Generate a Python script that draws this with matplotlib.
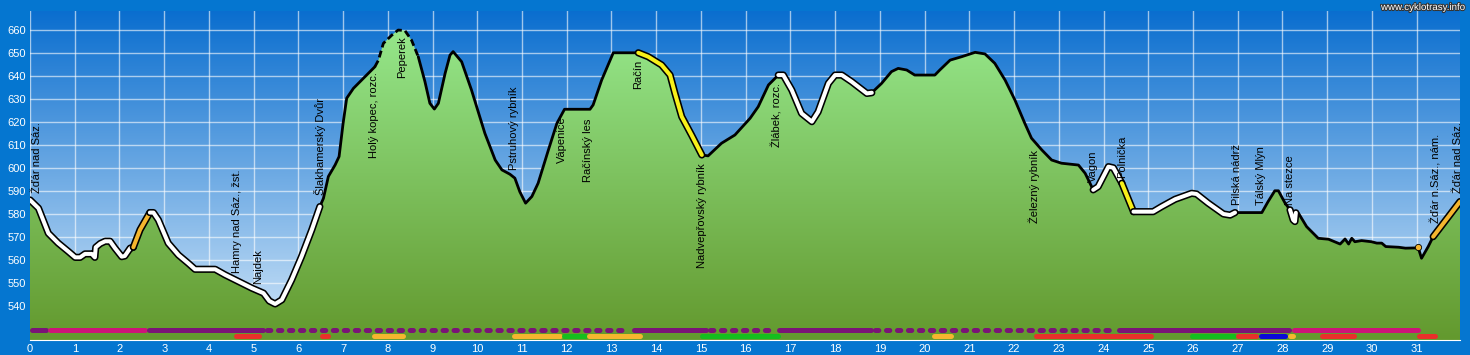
import matplotlib
matplotlib.use("Agg")
import matplotlib.pyplot as plt
import matplotlib.patheffects as pe
from matplotlib.colors import LinearSegmentedColormap
from matplotlib.patches import Polygon
import numpy as np

plt.rcParams['font.family'] = ['Liberation Sans', 'DejaVu Sans']
plt.rcParams['lines.scale_dashes'] = False

# elevation profile (km, m)
km = [0.00, 0.19, 0.41, 0.63, 0.86, 1.01, 1.12, 1.23, 1.38, 1.45, 1.47, 1.57, 1.68, 1.79, 1.90,
      2.05, 2.12, 2.24, 2.31, 2.46, 2.68, 2.76, 2.87, 3.09, 3.32, 3.54, 3.69, 4.14, 4.36, 4.66,
      4.96, 5.22, 5.35, 5.48, 5.63, 5.85, 6.07, 6.30, 6.48, 6.56, 6.67, 6.82, 6.91, 7.00, 7.08,
      7.23, 7.49, 7.71, 7.79, 7.90, 8.09, 8.23, 8.38, 8.53, 8.68, 8.83, 8.94, 9.04, 9.13, 9.28,
      9.39, 9.46, 9.65, 9.87, 10.17, 10.40, 10.55, 10.73, 10.84, 10.95, 11.08, 11.22, 11.36,
      11.59, 11.78, 11.95, 12.52, 12.59, 12.78, 13.04, 13.60, 13.82, 14.12, 14.31, 14.42, 14.57,
      14.79, 15.02, 15.16, 15.46, 15.76, 16.10, 16.28, 16.51, 16.73, 16.84, 17.03, 17.25, 17.48,
      17.62, 17.85, 18.00, 18.15, 18.37, 18.71, 18.82, 19.04, 19.26, 19.41, 19.60, 19.78, 20.23,
      20.34, 20.57, 20.83, 21.13, 21.35, 21.57, 21.80, 22.02, 22.24, 22.39, 22.62, 22.84, 23.06,
      23.44, 23.59, 23.77, 23.88, 24.11, 24.22, 24.41, 24.67, 25.11, 25.30, 25.60, 25.97, 26.08,
      26.34, 26.68, 26.83, 26.94, 27.54, 27.68, 27.83, 27.91, 28.06, 28.17, 28.24, 28.28, 28.30,
      28.36, 28.54, 28.80, 29.03, 29.29, 29.40, 29.48, 29.55, 29.62, 29.77, 29.99, 30.11, 30.22,
      30.31, 30.60, 30.75, 30.97, 31.04, 31.11, 31.26, 31.37, 31.97]
elev = [586, 582.4, 571.5, 567.2, 563.5, 561, 561, 562.5, 562.5, 561, 565.4, 567, 568, 568, 565,
        561.3, 561.6, 565, 565.4, 573, 580.5, 580.5, 577.3, 567.2, 562, 558.4, 555.8, 555.8, 553.4, 550.5,
        547.6, 545.4, 542, 540.7, 542.5, 551.2, 561.3, 573, 583.1, 586.7, 596.2, 601.2, 604.9, 619.4, 630.3,
        634.6, 639.7, 644, 646.9, 654.2, 657.8, 660, 659.8, 655.6, 648.4, 637.5, 628.1, 625.6, 628.1, 641.1,
        649.1, 650.6, 646.2, 633.9, 615, 603.4, 599.1, 597.2, 595.5, 589.6, 584.6, 587.5, 593.3,
        607.8, 619.4, 625.5, 625.5, 627.4, 638.2, 650.1, 650.1, 648.4, 644.8, 640.4, 632.4, 622.3,
        614.3, 605.6, 605.2, 610.7, 614.3, 621.6, 626.6, 636.1, 640.4, 640.4, 633.9, 623.7, 620.1,
        624.4, 636.8, 640.4, 640.4, 637.5, 632.4, 632.7, 636.8, 641.9, 643.3, 642.6, 640.4, 640.4,
        642.6, 646.9, 648.4, 650.3, 649.6, 645.5, 638.2, 629.5, 619.4, 612.9, 607.8, 603.4, 602,
        601.2, 597.6, 590.4, 591.8, 600.5, 600, 593.3, 580.9, 580.9, 583.1, 586.3, 588.9, 588.6,
        584.6, 579.9, 579.4, 580.5, 580.5, 585.3, 590, 590, 584.6, 581.7, 577.3, 576.6, 580.4,
        580.2, 574.4, 569.3, 568.9, 566.8, 569, 566.8, 569.3, 567.8, 568.3, 567.8, 567.2, 567.2,
        565.7, 565.4, 565, 565.1, 565, 560.6, 565.7, 570, 585.3]

# line highlight sections (from km, to km, kind)
line_sections = [(0, 2.31, 'white'), (2.31, 2.68, 'orange'), (2.68, 6.48, 'white'),
                 (7.71, 8.68, 'dashed'), (13.60, 15.02, 'yellow'), (16.73, 18.82, 'white'),
                 (23.77, 24.41, 'white'), (24.41, 24.67, 'yellow'), (24.67, 26.94, 'white'),
                 (28.17, 28.30, 'white'), (31.37, 31.97, 'orange')]

# waypoint labels (km, elevation of text foot, name)
label_km = [0.15, 4.62, 5.10, 6.48, 7.68, 8.31, 10.83, 11.90, 12.47, 13.60, 15.03, 16.71,
            22.45, 23.77, 24.42, 26.98, 27.51, 28.17, 31.43, 31.93]
label_y = [589.2, 554.1, 549.4, 588.2, 604.2, 639, 599.1, 602.3, 594, 634.2, 556.3, 609.2,
           576.1, 594, 595.5, 583.8, 583.8, 583.8, 575.9, 588.9]
label_text = ['Žďár nad Sáz.', 'Hamry nad Sáz., žst.', 'Najdek', 'Šlakhamerský Dvůr',
              'Holý kopec, rozc.', 'Peperek', 'Pstruhový rybník', 'Vápenice', 'Račínský les',
              'Račín', 'Nadvepřovský rybník', 'Žlábek, rozc.', 'Železný rybník', 'Vagon',
              'Polnička', 'Pilská nádrž', 'Tálský Mlýn', 'Na stezce', 'Žďár n.Sáz., nám.',
              'Žďár nad Sáz.']

# route type bars
bar1 = [(0, 0.40, 'purple', 'solid'), (0.40, 2.61, 'magenta', 'solid'),
        (2.61, 5.25, 'purple', 'solid'), (5.25, 13.45, 'purple', 'dotted'),
        (13.45, 15.16, 'purple', 'solid'), (15.16, 16.69, 'purple', 'dotted'),
        (16.69, 18.85, 'purple', 'solid'), (18.85, 24.29, 'purple', 'dotted'),
        (24.29, 28.20, 'purple', 'solid'), (28.20, 31.08, 'magenta', 'solid')]
# surface bars
bar2 = [(4.55, 5.18, 'red'), (6.47, 6.71, 'red'), (7.64, 8.38, 'orange'),
        (10.77, 11.89, 'orange'), (11.89, 12.45, 'green'), (12.45, 13.68, 'orange'),
        (14.98, 16.77, 'green'), (20.16, 20.63, 'orange'), (22.43, 25.11, 'red'),
        (25.93, 26.96, 'green'), (26.96, 27.46, 'red'), (27.46, 28.11, 'blue'),
        (28.11, 28.28, 'orange'), (28.84, 29.64, 'red'), (31.01, 31.46, 'red')]

colors = {'purple': '#7a1476', 'magenta': '#cc1478', 'red': '#e8302a', 'orange': '#f5b62e',
          'green': '#14be1e', 'blue': '#0a0ad8', 'white': 'white', 'yellow': '#f8f01a'}

km = np.array(km)
elev = np.array(elev)
x_max, y_min, y_max = 31.97, 525, 668.3

fig = plt.figure(figsize=(14.7, 3.55), dpi=100, facecolor='#0576d0')
ax = fig.add_axes([30/1470, 15/355, 1430/1470, 329/355])
ax.set_xlim(0, x_max)
ax.set_ylim(y_min, y_max)

# sky gradient
sky = LinearSegmentedColormap.from_list('sky', ['#d2e7f9', '#0a6ecf'])
ax.imshow(np.linspace(0, 1, 256).reshape(-1, 1), extent=[0, x_max, y_min, y_max],
          origin='lower', aspect='auto', cmap=sky, zorder=0)
ax.grid(True, color='white', alpha=0.6, lw=1, zorder=1)
ax.set_axisbelow(True)

# terrain gradient, clipped to profile
verts = np.column_stack([np.r_[km, km[-1], km[0]], np.r_[elev, y_min, y_min]])
poly = Polygon(verts, closed=True, facecolor='none', edgecolor='none')
ax.add_patch(poly)
grass = LinearSegmentedColormap.from_list('grass', ['#63992e', '#96e88c'])
img = ax.imshow(np.linspace(0, 1, 256).reshape(-1, 1), extent=[0, x_max, y_min, 662],
                origin='lower', aspect='auto', cmap=grass, zorder=2)
img.set_clip_path(poly)

# profile outline
dash_from, dash_to = 7.71, 8.68
m1 = km <= dash_from
m2 = km >= dash_to
ax.plot(km[m1], elev[m1], color='black', lw=2, zorder=4, solid_capstyle='round')
ax.plot(km[m2], elev[m2], color='black', lw=2, zorder=4, solid_capstyle='round')
for a, b, kind in line_sections:
    m = (km >= a - 1e-6) & (km <= b + 1e-6)
    if kind == 'dashed':
        ax.plot(km[m], elev[m], color='black', lw=2, ls=(0, (5, 2.5)), zorder=4)
        continue
    ax.plot(km[m], elev[m], color=colors[kind], lw=2.9, zorder=5, solid_capstyle='round',
            path_effects=[pe.Stroke(linewidth=5.2, foreground='black'), pe.Normal()])
# small orange dot near the end
ax.plot([31.04], [565.6], 'o', ms=4.5, color=colors['orange'], mec='black', mew=0.6, zorder=5)

# bars at the bottom
for a, b, c, st in bar1:
    if st == 'solid':
        ax.plot([a + 0.05, b - 0.05], [529.3, 529.3], color=colors[c], lw=3.6,
                solid_capstyle='round', zorder=3)
    else:
        ax.plot([a + 0.05, b - 0.05], [529.3, 529.3], color=colors[c], lw=3.6,
                dashes=(2.4, 5.5), dash_capstyle='round', zorder=3)
for a, b, c in bar2:
    ax.plot([a + 0.05, b - 0.05], [526.8, 526.8], color=colors[c], lw=3.6,
            solid_capstyle='round', zorder=3)

# waypoint names
for x, y, t in zip(label_km, label_y, label_text):
    ax.text(x, y, t, rotation=90, ha='center', va='bottom', fontsize=8, color='black', zorder=6)

ax.set_xticks(range(0, 32))
ax.set_yticks(range(540, 661, 10))
ax.tick_params(length=0, colors='white', labelsize=8, pad=3)
for s in ['top', 'left', 'right']:
    ax.spines[s].set_visible(False)
ax.spines['bottom'].set_color('white')

fig.text(1465/1470, 1 - 7/355, 'www.cyklotrasy.info', ha='right', va='center', fontsize=7,
         color='white', path_effects=[pe.withStroke(linewidth=1.5, foreground='#333333')])

fig.savefig('out.png', dpi=100, facecolor=fig.get_facecolor())
